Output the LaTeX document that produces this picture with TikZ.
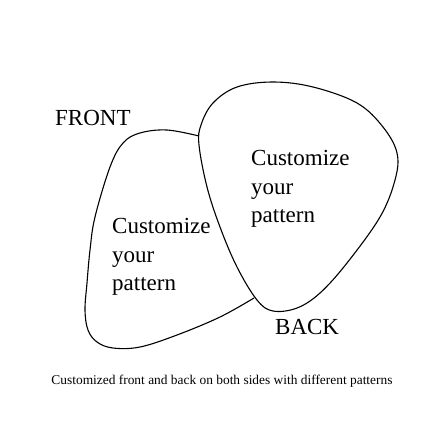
\documentclass[tikz,border=0pt]{standalone}
\usepackage{fontspec}
\setmainfont{Liberation Serif}
\begin{document}
\begin{tikzpicture}[x=1pt,y=-1pt,
  outline/.style={draw=black,line width=1.1pt},
  lbl/.style={anchor=base west,inner sep=0pt,font=\fontsize{23}{29}\selectfont},
  captext/.style={anchor=base,inner sep=0pt,font=\fontsize{13.4}{15}\selectfont}]
\useasboundingbox (0,0) rectangle (426,426);
% back pick (full outline)
\draw[outline] plot[smooth cycle,tension=0.6] coordinates {
 (273,82) (313,87) (357,103) (383,127) (397,153) (395,180) (380,217) (347,263)
 (320,293) (297,308) (273,311) (257,300) (237,267) (220,227) (207,187) (199,145)
 (201,125) (213,103) (237,87)};
% front pick (visible part)
\draw[outline] plot[smooth,tension=0.6] coordinates {
 (199,136) (167,130) (140,133) (123,143) (110,167) (95,217) (90,250) (87,283) (85,310)
 (88,330) (97,342) (113,348) (140,347) (177,335) (220,317) (254,298)};
\node[lbl] (front) at (55,125) {FRONT};
\node[lbl] (back) at (275,334) {BACK};
\node[lbl] (r1) at (251,165) {Customize};
\node[lbl] (r2) at (251,194) {your};
\node[lbl] (r3) at (251,222) {pattern};
\node[lbl] (l1) at (112,233) {Customize};
\node[lbl] (l2) at (112,262) {your};
\node[lbl] (l3) at (112,290) {pattern};
\node[captext] (caption) at (222,384) {Customized front and back on both sides with different patterns};
\end{tikzpicture}
\end{document}
